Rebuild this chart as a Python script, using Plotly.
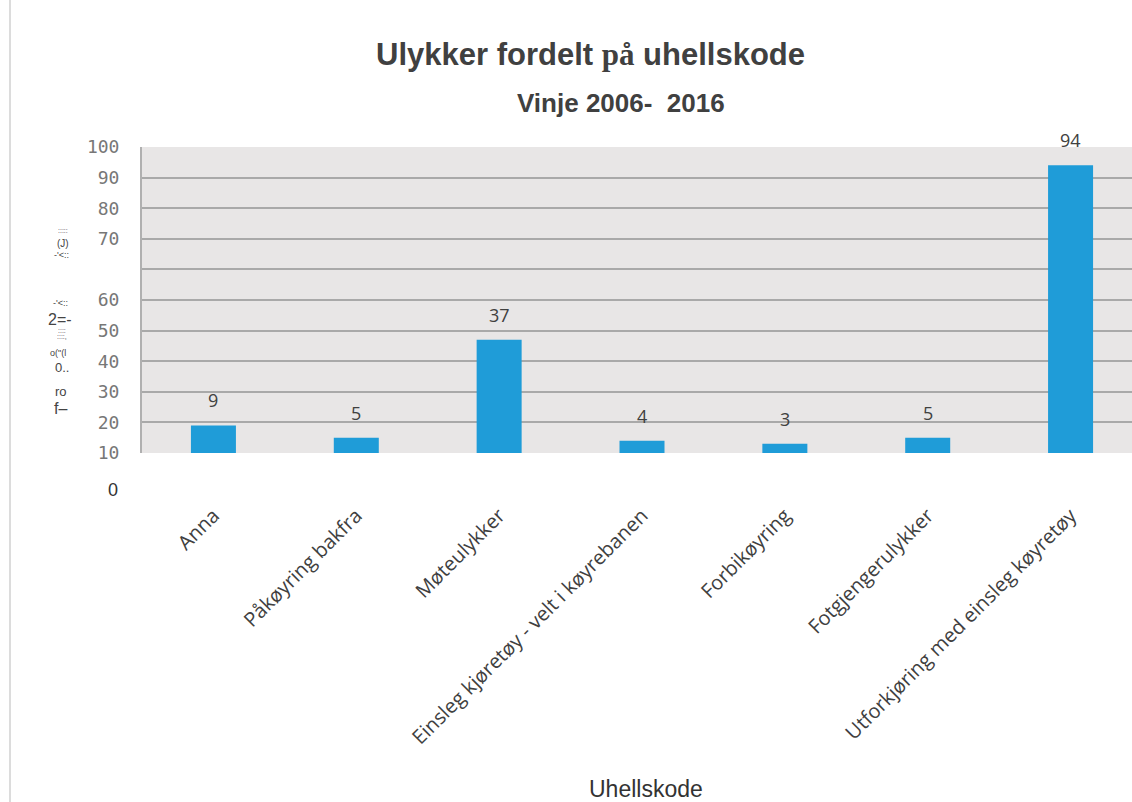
import plotly.graph_objects as go

categories = ["Anna", "Påkøyring bakfra", "Møteulykker",
              "Einsleg kjøretøy - velt i køyrebanen", "Forbikøyring",
              "Fotgjengerulykker", "Utforkjøring med einsleg køyretøy"]
values = [9, 5, 37, 4, 3, 5, 94]
tick_vals = [0, 10, 20, 30, 40, 50, 60, 70, 80, 90, 100]
tick_text = ["10", "20", "30", "40", "50", "60", "", "70", "80", "90", "100"]
title_lines = ["Ulykker fordelt <span style='font-family:Liberation Serif'>på</span> uhellskode",
               "Vinje 2006-\u00a0\u00a02016"]
x_title = "Uhellskode"
stray_text = [  # OCR fragments of the rotated y-axis title
    (":::::", 63, 230, 7), ("(J)", 63, 243, 10), ("-'<::", 61, 255, 9),
    ("-'<::", 60, 303, 9), ("2=-", 60, 319, 16), ("::::", 62, 330, 7),
    ("::::,", 62, 336, 7), ("o(\"(l", 58, 353, 9), ("0..", 62, 367, 13),
    ("ro", 61, 391, 13), ("f–", 60, 408, 16),
]

W, H = 1132, 802
L, R, T, B = 142, 0, 147, 349
pw, ph = W - L - R, H - T - B


def px(xp):
    return (xp - L) / pw


def py(yp):
    return (H - B - yp) / ph


def note(text, xp, yp, size, color="#404040", family="Liberation Sans", weight="normal"):
    return dict(x=px(xp), y=py(yp), xref="paper", yref="paper", text=text,
                showarrow=False, xanchor="center", yanchor="middle",
                font=dict(family=family, size=size, color=color, weight=weight))


fig = go.Figure()
fig.add_trace(go.Bar(x=categories, y=values, marker_color="#1f9cd8",
                     marker_line_width=0, width=0.315, hoverinfo="x+y"))

ann = []
for c, v in zip(categories, values):
    ann.append(dict(x=c, y=v, xref="x", yref="y", text=str(v), showarrow=False,
                    xanchor="center", yanchor="bottom", yshift=11,
                    font=dict(family="Open Sans", size=18, color="#404040")))
ann.append(note(title_lines[0], 590, 55, 31, weight="bold"))
ann.append(note(title_lines[1], 621, 103, 26, weight="bold"))
ann.append(note(x_title, 646, 789, 23, color="#333333"))
ann.append(note("0", 113, 490, 18, color="#333333"))
for t, xx, yy, s in stray_text:
    ann.append(note(t, xx, yy, s, color="#444444"))

fig.update_layout(
    width=W, height=H,
    margin=dict(l=L, r=R, t=T, b=B, autoexpand=False),
    paper_bgcolor="white", plot_bgcolor="#e8e6e6",
    showlegend=False, annotations=ann,
    xaxis=dict(range=[-0.5, 6.43], tickangle=-45, showgrid=False, zeroline=False,
               showline=False, ticks="", ticklabelstandoff=46,
               tickfont=dict(family="Open Sans", size=20, color="#404040")),
    yaxis=dict(range=[0, 100], tickvals=tick_vals, ticktext=tick_text,
               showgrid=True, gridcolor="#a9a9a9", gridwidth=1.5, zeroline=False,
               showline=True, linecolor="#b0b0b0", linewidth=2, ticks="",
               ticklabelstandoff=17,
               tickfont=dict(family="DejaVu Sans Mono", size=18, color="#777777")),
    shapes=[dict(type="line", xref="paper", yref="paper", x0=px(10), x1=px(10),
                 y0=py(0), y1=py(802), line=dict(color="#dcdcdc", width=2))],
)

fig.write_html("out.html", config={"displayModeBar": False},
               post_script="document.body.style.margin='0px';")
